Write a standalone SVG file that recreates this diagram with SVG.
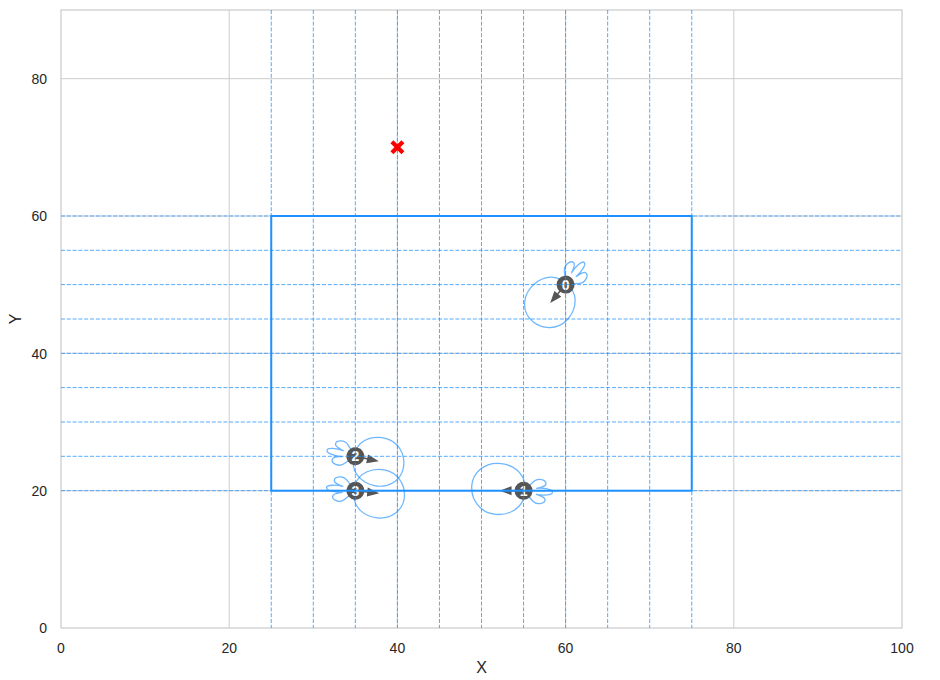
<svg xmlns="http://www.w3.org/2000/svg" width="940" height="680" viewBox="0 0 940 680">
<style>
.grid{stroke:#cccccc;stroke-width:1;fill:none}
.spine{stroke:#cccccc;stroke-width:1.25;fill:none}
.tick{font-family:"Liberation Sans",Arial,sans-serif;font-size:14px;fill:#262626}
.axlab{font-family:"Liberation Sans",Arial,sans-serif;font-size:16px;fill:#262626}
.dash{stroke:#1e90ff;stroke-opacity:0.85;stroke-width:0.9;stroke-dasharray:4 1.8;fill:none}
.lobe{stroke:#1e90ff;stroke-opacity:0.65;stroke-width:1.3;fill:none;stroke-linejoin:round}
.shaft{stroke:#555555;stroke-width:1.5}
.head{fill:#555555}
.node{fill:#555555}
.nlab{font-family:"Liberation Sans",Arial,sans-serif;font-size:14px;font-weight:bold;fill:#ffffff;text-anchor:middle}
</style>
<defs>
<path id="mainlobe" d="M -1,-6 C 2,-20 16,-26 28,-25 C 42,-24 52,-12 52,2 C 52,16 40,26 26,26 C 12,26 1,18 -1,6 Z"/>
<path id="backlobe" d="M 0,0 L -10,-10 C -14,-14 -22,-12 -22,-8 C -22,-5 -16,-4 -13,-3 C -20,-4 -29,-3 -29,0 C -29,3 -20,4 -13,3 C -16,4 -22,5 -22,8 C -22,12 -14,14 -10,10 Z"/>
<g id="arrowshape">
<line class="shaft" x1="0" y1="0" x2="13" y2="0"/>
<polygon class="head" points="24,0 12,-4.5 12,4.5"/>
</g>
</defs>
<rect x="0" y="0" width="940" height="680" fill="#ffffff"/>
<g id="axes-grid">
<line class="grid" x1="229.2" y1="10" x2="229.2" y2="628"/>
<line class="grid" x1="397.4" y1="10" x2="397.4" y2="628"/>
<line class="grid" x1="565.6" y1="10" x2="565.6" y2="628"/>
<line class="grid" x1="733.8" y1="10" x2="733.8" y2="628"/>
<line class="grid" x1="61" y1="490.7" x2="902" y2="490.7"/>
<line class="grid" x1="61" y1="353.3" x2="902" y2="353.3"/>
<line class="grid" x1="61" y1="216" x2="902" y2="216"/>
<line class="grid" x1="61" y1="78.7" x2="902" y2="78.7"/>
<rect class="spine" x="61" y="10" width="841" height="618"/>
</g>
<g id="tick-labels">
<text class="tick" x="61" y="653" text-anchor="middle">0</text>
<text class="tick" x="229.2" y="653" text-anchor="middle">20</text>
<text class="tick" x="397.4" y="653" text-anchor="middle">40</text>
<text class="tick" x="565.6" y="653" text-anchor="middle">60</text>
<text class="tick" x="733.8" y="653" text-anchor="middle">80</text>
<text class="tick" x="902" y="653" text-anchor="middle">100</text>
<text class="tick" x="47" y="633.3" text-anchor="end">0</text>
<text class="tick" x="47" y="496" text-anchor="end">20</text>
<text class="tick" x="47" y="358.6" text-anchor="end">40</text>
<text class="tick" x="47" y="221.3" text-anchor="end">60</text>
<text class="tick" x="47" y="84" text-anchor="end">80</text>
<text class="axlab" x="481.5" y="673" text-anchor="middle">X</text>
<text class="axlab" x="20.5" y="319" text-anchor="middle" transform="rotate(-90 20.5 319)">Y</text>
</g>
<g id="node-0" transform="translate(565.6,284.6) rotate(130)">
<use href="#mainlobe" class="lobe" transform="scale(0.95)"/>
<use href="#backlobe" class="lobe"/>
<use href="#arrowshape"/>
<circle class="node" cx="0" cy="0" r="9"/>
<text class="nlab" x="0" y="5" transform="rotate(-130)">0</text>
</g>
<g id="node-1" transform="translate(523.55,490.7) rotate(183)">
<use href="#mainlobe" class="lobe"/>
<use href="#backlobe" class="lobe"/>
<use href="#arrowshape" transform="rotate(-3)"/>
<circle class="node" cx="0" cy="0" r="9"/>
<text class="nlab" x="0" y="5" transform="rotate(-183)">1</text>
</g>
<g id="node-2" transform="translate(355.35,456.3) rotate(12)">
<use href="#mainlobe" class="lobe" transform="scale(0.95)"/>
<use href="#backlobe" class="lobe"/>
<use href="#arrowshape"/>
<circle class="node" cx="0" cy="0" r="9"/>
<text class="nlab" x="0" y="5" transform="rotate(-12)">2</text>
</g>
<g id="node-3" transform="translate(355.35,490.7) rotate(6)">
<use href="#mainlobe" class="lobe" transform="scale(0.95)"/>
<use href="#backlobe" class="lobe"/>
<use href="#arrowshape"/>
<circle class="node" cx="0" cy="0" r="9"/>
<text class="nlab" x="0" y="5" transform="rotate(-6)">3</text>
</g>
<g id="connectors"></g>
<g id="dashed-grid">
<line class="dash" x1="271.25" y1="10" x2="271.25" y2="628"/>
<line class="dash" x1="313.3" y1="10" x2="313.3" y2="628"/>
<line class="dash" x1="355.35" y1="10" x2="355.35" y2="628"/>
<line class="dash" x1="397.4" y1="10" x2="397.4" y2="628"/>
<line class="dash" x1="439.45" y1="10" x2="439.45" y2="628"/>
<line class="dash" x1="481.5" y1="10" x2="481.5" y2="628"/>
<line class="dash" x1="523.55" y1="10" x2="523.55" y2="628"/>
<line class="dash" x1="565.6" y1="10" x2="565.6" y2="628"/>
<line class="dash" x1="607.65" y1="10" x2="607.65" y2="628"/>
<line class="dash" x1="649.7" y1="10" x2="649.7" y2="628"/>
<line class="dash" x1="691.75" y1="10" x2="691.75" y2="628"/>
<line class="dash" x1="61" y1="490.7" x2="902" y2="490.7"/>
<line class="dash" x1="61" y1="456.3" x2="902" y2="456.3"/>
<line class="dash" x1="61" y1="422" x2="902" y2="422"/>
<line class="dash" x1="61" y1="387.6" x2="902" y2="387.6"/>
<line class="dash" x1="61" y1="353.3" x2="902" y2="353.3"/>
<line class="dash" x1="61" y1="319" x2="902" y2="319"/>
<line class="dash" x1="61" y1="284.6" x2="902" y2="284.6"/>
<line class="dash" x1="61" y1="250.3" x2="902" y2="250.3"/>
<line class="dash" x1="61" y1="216" x2="902" y2="216"/>
</g>
<g id="region">
<rect x="271.25" y="216" width="420.5" height="274.7" fill="none" stroke="#1e90ff" stroke-width="2"/>
</g>
<g id="target">
<polygon transform="translate(397.4,147.3)" fill="#ff0000" points="-7,-4 -4,-7 0,-3 4,-7 7,-4 3,0 7,4 4,7 0,3 -4,7 -7,4 -3,0"/>
</g>
</svg>
